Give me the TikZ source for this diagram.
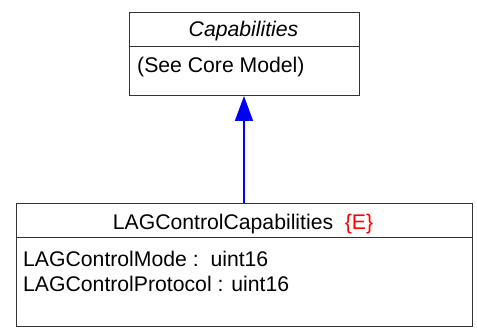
\documentclass[tikz,border=0pt]{standalone}
\usepackage{fontspec}
\setmainfont{Liberation Sans}
\usetikzlibrary{arrows.meta}
\begin{document}
\begin{tikzpicture}[x=1pt,y=-1pt,
  box/.style={draw=black!80,line width=1pt,inner sep=0pt,anchor=north west},
  sep/.style={draw=black!80,line width=1pt},
  lbl/.style={inner sep=0pt,font=\fontsize{21.2}{25}\selectfont},
  gen/.style={draw=blue,line width=1.6pt,-{Triangle[width=18pt,length=25pt]}}]
\useasboundingbox (0,0) rectangle (477,328);
% top class
\node[box,minimum width=230pt,minimum height=83pt] (cap) at (128.5,12) {};
\coordinate (c1) at (128.5,47);
\coordinate (c2) at (358.5,47);
\draw[sep] (c1) -- (c2);
\node[lbl,anchor=base] (capt) at (243.5,37) {\itshape Capabilities};
\node[lbl,anchor=base west] (capa) at (137,73) {(See Core Model)};
% bottom class
\node[box,minimum width=456pt,minimum height=123pt] (lag) at (15.5,203) {};
\coordinate (l1) at (15.5,238);
\coordinate (l2) at (471.5,238);
\draw[sep] (l1) -- (l2);
\node[lbl,anchor=base] (lagt) at (243,230) {LAGControlCapabilities\hspace{0.55em}\textcolor{red}{\{E\}}};
\node[lbl,anchor=base west] (lagm) at (23,267) {LAGControlMode :\ \ uint16};
\node[lbl,anchor=base west] (lagp) at (23,292) {LAGControlProtocol : uint16};
% generalization
\draw[gen] (lag.north) -- (lag.north |- cap.south);
\end{tikzpicture}
\end{document}
